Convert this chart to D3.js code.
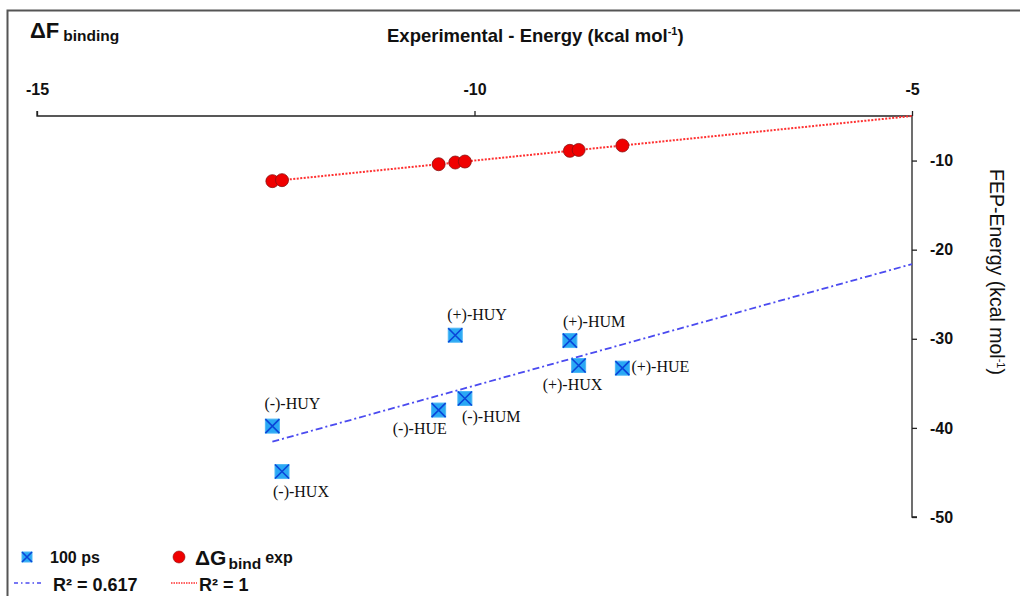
<!DOCTYPE html>
<html>
<head>
<meta charset="utf-8">
<script src="https://cdn.jsdelivr.net/npm/d3@7"></script>
<style>
  body { margin: 0; background: #fff; }
  svg { display: block; }
</style>
</head>
<body>
<div id="chart"></div>
<script>
// compounds, experimental binding energy and FEP energy (kcal/mol)
const compounds = ["(-)-HUY", "(-)-HUX", "(-)-HUE", "(+)-HUY", "(-)-HUM", "(+)-HUM", "(+)-HUX", "(+)-HUE"];
const expEnergy = [-12.31, -12.20, -10.41, -10.22, -10.11, -8.91, -8.81, -8.31];
const fepEnergy = [-39.8, -44.9, -38.0, -29.6, -36.7, -30.2, -33.0, -33.3];
const xTicks = [-15, -10, -5];
const yTicks = [-10, -20, -30, -40, -50];

// where each label sits relative to its marker
const labelPos = {
  "(-)-HUY": [-8, -17], "(-)-HUX": [-9, 25], "(-)-HUE": [-46, 24], "(-)-HUM": [-3, 24],
  "(+)-HUY": [-8, -15], "(+)-HUM": [-7, -14], "(+)-HUX": [-36, 24], "(+)-HUE": [9, 4]
};

const width = 1020, height = 596;
const svg = d3.select('#chart').append('svg')
  .attr('width', width).attr('height', height);

const xScale = d3.scaleLinear().domain([-15, -5]).range([37, 912]);
const yScale = d3.scaleLinear().domain([-5, -50]).range([116, 517]);

// frame
svg.append('path')
  .attr('d', `M7.5,${height} V10.5 H${width}`)
  .attr('fill', 'none').attr('stroke', '#555').attr('stroke-width', 2);

const font = 'Arial, "Liberation Sans", sans-serif';

// top axis
const xAxis = svg.append('g')
  .attr('transform', 'translate(0,116)')
  .call(d3.axisTop(xScale).tickValues(xTicks).tickSize(5).tickFormat(d3.format('d')));
xAxis.select('.domain').attr('d', 'M37,-5V0H912').attr('stroke', '#222').attr('stroke-width', 1.3);
xAxis.selectAll('.tick line').attr('stroke', '#222').attr('stroke-width', 1.3);
xAxis.selectAll('.tick text')
  .attr('y', -21).attr('font-family', font).attr('font-weight', 'bold')
  .attr('font-size', 16).attr('fill', '#111').text(d => d);

// right axis
const yAxis = svg.append('g')
  .attr('transform', 'translate(912,0)')
  .call(d3.axisRight(yScale).tickValues(yTicks).tickSize(5));
yAxis.select('.domain').attr('d', 'M0,116V517H5').attr('stroke', '#222').attr('stroke-width', 1.3);
yAxis.selectAll('.tick line').attr('stroke', '#222').attr('stroke-width', 1.3);
yAxis.selectAll('.tick text')
  .attr('x', 18).attr('font-family', font).attr('font-weight', 'bold')
  .attr('font-size', 16).attr('fill', '#111').text(d => d);

// titles
const xTitle = svg.append('text')
  .attr('x', 387).attr('y', 42)
  .attr('font-family', font).attr('font-weight', 'bold').attr('font-size', 18.5).attr('fill', '#111');
xTitle.append('tspan').text('Experimental - Energy (kcal mol');
xTitle.append('tspan').attr('font-size', 11).attr('dy', -7).text('-1');
xTitle.append('tspan').attr('dy', 7).text(')');

const yTitle = svg.append('text')
  .attr('transform', 'translate(990,272) rotate(90)')
  .attr('text-anchor', 'middle')
  .attr('font-family', font).attr('font-size', 19.5).attr('fill', '#111');
yTitle.append('tspan').text('FEP-Energy (kcal mol');
yTitle.append('tspan').attr('font-size', 11).attr('dy', -7).text('-1');
yTitle.append('tspan').attr('dy', 7).text(')');

const corner = svg.append('text')
  .attr('x', 30).attr('y', 38)
  .attr('font-family', font).attr('font-weight', 'bold').attr('fill', '#111');
corner.append('tspan').attr('font-size', 22).text('ΔF');
corner.append('tspan').attr('font-size', 15.5).attr('dx', 4).attr('dy', 3).text('binding');

// least squares trend line
function fit(xs, ys) {
  const mx = d3.mean(xs), my = d3.mean(ys);
  const sxy = d3.sum(xs, (x, i) => (x - mx) * (ys[i] - my));
  const sxx = d3.sum(xs, x => (x - mx) ** 2);
  const b = sxy / sxx;
  return x => my + b * (x - mx);
}
const xMin = d3.min(expEnergy);
const blueFit = fit(expEnergy, fepEnergy);
const redFit = fit(expEnergy, expEnergy);

const line = d3.line().x(d => xScale(d[0])).y(d => yScale(d[1]));

svg.append('path')
  .attr('d', line([[xMin, redFit(xMin)], [-5, redFit(-5)]]))
  .attr('stroke', '#ff3030').attr('stroke-width', 2).attr('stroke-dasharray', '2,1.5')
  .attr('fill', 'none');
svg.append('path')
  .attr('d', line([[xMin, blueFit(xMin)], [-5, blueFit(-5)]]))
  .attr('stroke', '#4b4bf0').attr('stroke-width', 1.8).attr('stroke-dasharray', '7,3,2,3')
  .attr('fill', 'none');

// markers
function crossBox(g, cx, cy, s) {
  g.append('rect')
    .attr('x', cx - s / 2).attr('y', cy - s / 2).attr('width', s).attr('height', s)
    .attr('fill', '#2aa8f4').attr('stroke', '#4fb8f5').attr('stroke-width', 1);
  g.append('path')
    .attr('d', `M${cx - s / 2},${cy - s / 2}L${cx + s / 2},${cy + s / 2}M${cx + s / 2},${cy - s / 2}L${cx - s / 2},${cy + s / 2}`)
    .attr('stroke', '#0a46d8').attr('stroke-width', 1.6);
}

const redG = svg.append('g');
redG.selectAll('circle')
  .data(expEnergy)
  .enter().append('circle')
  .attr('cx', d => xScale(d)).attr('cy', d => yScale(d)).attr('r', 6.5)
  .attr('fill', '#f00000').attr('stroke', '#8a1010').attr('stroke-width', 0.8);

const blueG = svg.append('g');
compounds.forEach((c, i) => {
  const cx = xScale(expEnergy[i]), cy = yScale(fepEnergy[i]);
  crossBox(blueG, cx, cy, 14);
  blueG.append('text')
    .attr('x', cx + labelPos[c][0]).attr('y', cy + labelPos[c][1])
    .attr('font-family', '"Liberation Serif", "Times New Roman", serif')
    .attr('font-size', 16).attr('fill', '#111')
    .text(c);
});

// legend
const leg = svg.append('g')
  .attr('font-family', font).attr('font-weight', 'bold').attr('fill', '#111');
crossBox(leg, 27, 557, 10);
leg.append('text').attr('x', 50).attr('y', 563).attr('font-size', 16).text('100 ps');
leg.append('circle').attr('cx', 179).attr('cy', 557).attr('r', 6)
  .attr('fill', '#f00000').attr('stroke', '#8a1010').attr('stroke-width', 0.6);
const lg = leg.append('text').attr('x', 195).attr('y', 565);
lg.append('tspan').attr('font-size', 21).text('ΔG');
lg.append('tspan').attr('font-size', 15.5).attr('dx', 2).attr('dy', 4).text('bind');
lg.append('tspan').attr('font-size', 16).attr('dx', 4).attr('dy', -6).text('exp');

leg.append('line').attr('x1', 14).attr('x2', 43).attr('y1', 583).attr('y2', 583)
  .attr('stroke', '#4b4bf0').attr('stroke-width', 1.5).attr('stroke-dasharray', '4,3,1.5,3');
leg.append('text').attr('x', 53).attr('y', 591).attr('font-size', 18).text('R² = 0.617');
leg.append('line').attr('x1', 171).attr('x2', 197).attr('y1', 583).attr('y2', 583)
  .attr('stroke', '#ff3030').attr('stroke-width', 1.5).attr('stroke-dasharray', '1.5,1');
leg.append('text').attr('x', 199).attr('y', 591).attr('font-size', 18).text('R² = 1');
</script>
</body>
</html>
